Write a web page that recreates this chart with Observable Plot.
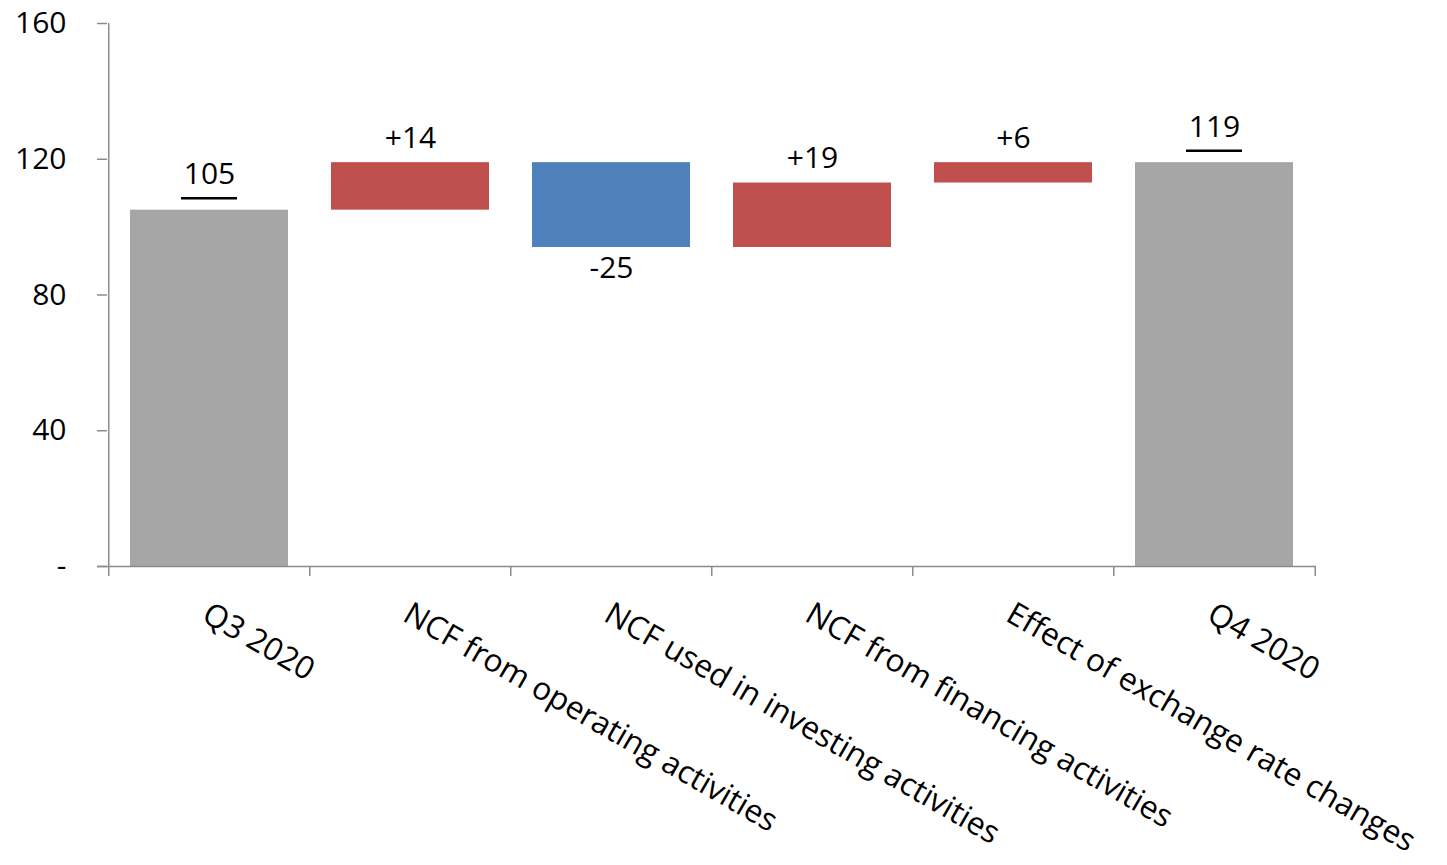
<!DOCTYPE html>
<html><head><meta charset="utf-8">
<script src="https://cdn.jsdelivr.net/npm/d3@7"></script>
<script src="https://cdn.jsdelivr.net/npm/@observablehq/plot@0.6"></script>
<style>
body{margin:0;background:#fff;}
#chart svg{font-family:"Open Sans",sans-serif;}
</style>
</head><body><div id="chart"></div>
<script>
const categories = ["Q3 2020","NCF from operating activities","NCF used in investing activities","NCF from financing activities","Effect of exchange rate changes","Q4 2020"];
const values = [105, 14, -25, 19, 6, 119];
const kinds = ["total","change","change","change","change","total"];
const labels = ["105","+14","-25","+19","+6","119"];
const yTicks = [0, 40, 80, 120, 160];
const yTickLabels = ["-", "40", "80", "120", "160"];

let run = 0;
const rows = categories.map((c, i) => {
  let start, end;
  if (kinds[i] === "total") { start = 0; end = values[i]; run = values[i]; }
  else { start = run; end = run + values[i]; run = end; }
  return {
    category: c, value: values[i], label: labels[i],
    sign: kinds[i] === "total" ? "total" : (values[i] >= 0 ? "up" : "down"),
    start, end, top: Math.max(start, end), bottom: Math.min(start, end)
  };
});
const totals = rows.filter(d => d.sign === "total");
const ups = rows.filter(d => d.sign === "up");
const downs = rows.filter(d => d.sign === "down");

const W = 1447, H = 865, ML = 107, MR = 131, MT = 23, MB = 299;
const step = (W - ML - MR) / categories.length;
const axisColor = "#8c8c8c";
const fs = 30;

const chart = Plot.plot({
  width: W, height: H,
  marginLeft: ML, marginRight: MR, marginTop: MT, marginBottom: MB,
  style: {fontFamily: '"Open Sans", sans-serif', background: "#fff", overflow: "visible"},
  x: {domain: categories, paddingInner: 0.216, paddingOuter: 0.108, axis: null},
  y: {domain: [0, 160], axis: null},
  color: {domain: ["total", "up", "down"], range: ["#A6A6A6", "#C0504D", "#4F81BD"]},
  marks: [
    Plot.barY(rows, {x: "category", y1: "start", y2: "end", fill: "sign"}),
    Plot.ruleY([0], {stroke: axisColor, strokeWidth: 1.5, insetLeft: -10}),
    Plot.ruleX([categories[0]], {x: d => d, y1: 0, y2: 160, dx: -step / 2, stroke: axisColor, strokeWidth: 1.5}),
    Plot.axisY({ticks: yTicks, tickFormat: d => yTickLabels[yTicks.indexOf(d)], tickSize: 10, tickPadding: 31,
      fontSize: fs, stroke: axisColor, fill: "black", strokeWidth: 1.5, label: null}),
    Plot.axisX({tickSize: 10, tickFormat: () => "", dx: -step / 2, stroke: axisColor, strokeWidth: 1.5, label: null}),
    Plot.axisX({ticks: [categories[categories.length - 1]], tickSize: 10, tickFormat: () => "", dx: step / 2, stroke: axisColor, strokeWidth: 1.5, label: null}),
    Plot.text(categories, {x: d => d, frameAnchor: "bottom", text: d => d, rotate: 30, textAnchor: "start",
      lineAnchor: "top", dx: 2, dy: 34, fontSize: 31.5, fill: "black"}),
    Plot.text(totals, {x: "category", y: "top", text: "label", lineAnchor: "bottom", dy: -26, fontSize: fs, fill: "black"}),
    Plot.tickY(totals, {x: "category", y: "top", dy: -12, insetLeft: 51, insetRight: 51, stroke: "black", strokeWidth: 2.5}),
    Plot.text(ups, {x: "category", y: "top", text: "label", lineAnchor: "bottom", dy: -15, fontSize: fs, fill: "black"}),
    Plot.text(downs, {x: "category", y: "bottom", text: "label", lineAnchor: "top", dy: 9, fontSize: fs, fill: "black"})
  ]
});
document.getElementById("chart").appendChild(chart);
</script>
</body></html>
